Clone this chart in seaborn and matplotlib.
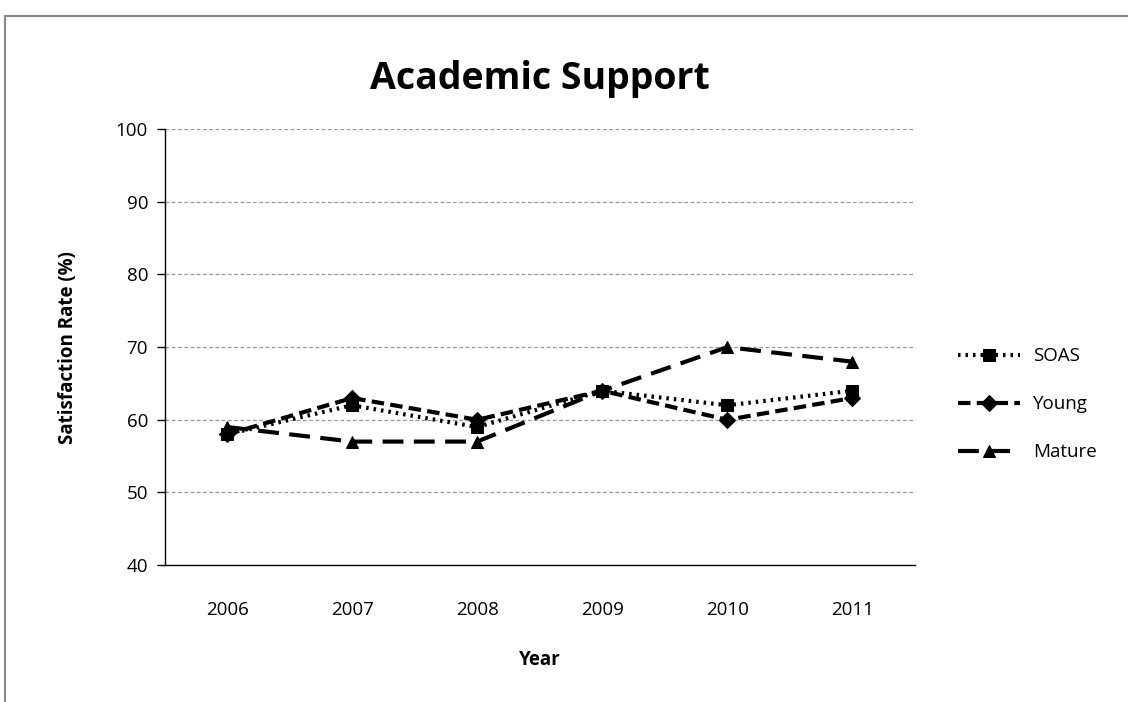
import numpy as np
import pandas as pd
import seaborn as sns
import matplotlib.pyplot as plt
from matplotlib.patches import Rectangle

# Data
years = ["2006", "2007", "2008", "2009", "2010", "2011"]
soas = [58, 62, 59, 64, 62, 64]
young = [58, 63, 60, 64, 60, 63]
mature = [59, 57, 57, 64, 70, 68]
groups = ["SOAS", "Young", "Mature"]

df = pd.DataFrame({
    "Year": years * 3,
    "pos": list(range(len(years))) * 3,
    "Rate": soas + young + mature,
    "Group": ["SOAS"] * 6 + ["Young"] * 6 + ["Mature"] * 6,
})

sns.set_style("white")
plt.rcParams['font.family'] = ['Open Sans', 'DejaVu Sans']
plt.rcParams['text.color'] = 'black'
plt.rcParams['axes.labelcolor'] = 'black'
plt.rcParams['xtick.color'] = 'black'
plt.rcParams['ytick.color'] = 'black'

fig = plt.figure(figsize=(11.28, 7.02), dpi=100)
ax = fig.add_axes([0.146, 0.195, 0.665, 0.621])

# outer chart border
fig.patches.append(Rectangle((0.0045, -0.01), 1.1, 0.987, transform=fig.transFigure,
                             fill=False, edgecolor="#888888", linewidth=1.5))

sns.lineplot(data=df, x="pos", y="Rate", hue="Group", style="Group",
             hue_order=groups, style_order=groups,
             palette=["black"] * 3,
             dashes={"SOAS": (0.6, 1.2), "Young": (3, 1.5), "Mature": (5, 2.5)},
             markers={"SOAS": "s", "Young": "D", "Mature": "^"},
             markersize=8, linewidth=3, markeredgecolor="black",
             ax=ax)

ax.set_xlim(-0.5, 5.5)
ax.set_ylim(40, 100)
ax.set_yticks(range(40, 101, 10))
ax.set_xticks(range(len(years)))
ax.set_xticklabels(years)
ax.set_xticks(np.arange(-0.5, 5.6, 1), minor=True)
ax.tick_params(axis="x", which="major", length=0, labelsize=13.5, pad=26)
ax.tick_params(axis="x", which="minor", length=7, width=1, direction="out", color="black")
ax.tick_params(axis="y", length=6, width=1, direction="out", color="black", labelsize=13.5, left=True, pad=6)

for v in range(50, 101, 10):
    ax.axhline(v, color="#999999", linestyle=(0, (3, 2)), linewidth=0.9, zorder=0)

for s in ["top", "right"]:
    ax.spines[s].set_visible(False)
for s in ["left", "bottom"]:
    ax.spines[s].set_color("black")
    ax.spines[s].set_linewidth(1)

ax.set_xlabel("Year", fontsize=13.5, fontweight="bold", labelpad=22)
ax.set_ylabel("Satisfaction Rate (%)", fontsize=13.5, fontweight="bold", labelpad=27)
ax.set_title("Academic Support", fontsize=27, fontweight="bold", pad=29)

leg = ax.legend(title=None, loc="center left", bbox_to_anchor=(1.035, 0.369),
                frameon=False, fontsize=13.5, handlelength=3.3, labelspacing=1.6,
                handletextpad=0.7)

fig.savefig("out.png", dpi=100)
